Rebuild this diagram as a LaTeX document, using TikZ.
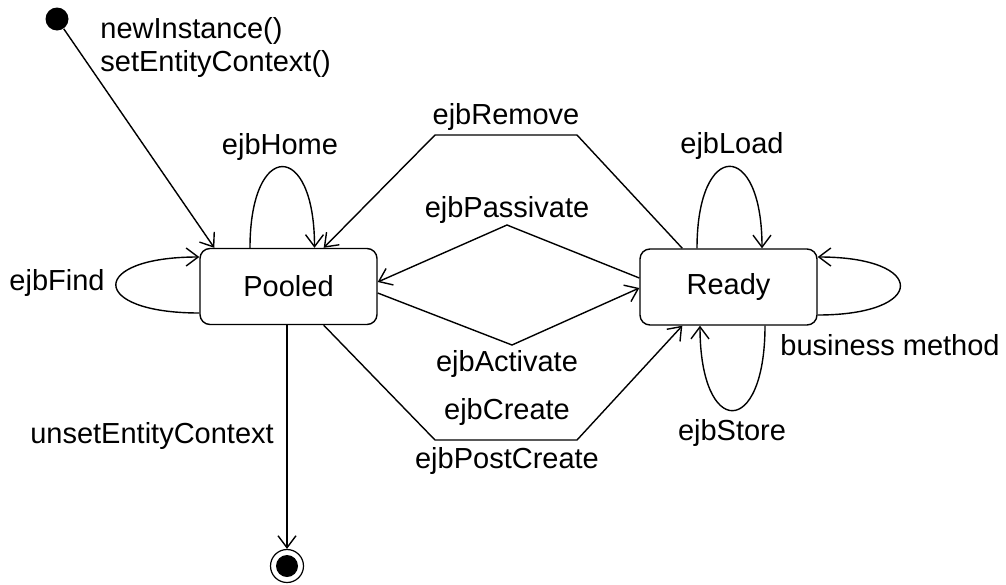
\documentclass[tikz,border=0pt]{standalone}
\usepackage{fontspec}
\setmainfont{Liberation Sans}
\usepackage{tikz}
\usetikzlibrary{arrows.meta, positioning, calc}

\begin{document}
\begin{tikzpicture}[x=0.5pt, y=-0.5pt,
        font=\fontsize{14.5}{16.5}\selectfont,
        state/.style={draw, rectangle, rounded corners=5pt, line width=0.7pt, minimum width=88.5pt, minimum height=38pt},
        trans/.style={line width=0.7pt, -{Straight Barb[length=6pt, width=9pt]}},
        lbl/.style={inner sep=0pt}]
    \useasboundingbox (0,0) rectangle (1006,584);

    % states
    \node[state] (pooled) at (288.5,286.5) {Pooled};
    \node[state] (ready) at (728.5,287) {Ready};
    \node[circle, fill=black, minimum size=11.5pt, inner sep=0pt] (init) at (57,19) {};
    \node[circle, draw, line width=0.6pt, minimum size=16.5pt, inner sep=0pt] (final) at (287,566) {};
    \fill (final.center) circle (5.5pt);

    % bends
    \coordinate (rmR) at (577,135);
    \coordinate (rmL) at (435,135);
    \coordinate (psTop) at (507,225);
    \coordinate (acBot) at (512,345);
    \coordinate (crL) at (435,440);
    \coordinate (crR) at (577,440);

    % transitions
    \draw[trans] (init) -- ([xshift=7.5pt]pooled.north west);
    \draw[trans] ([xshift=-19.25pt]pooled.north) .. controls +(0,-108) and +(0,-108) .. ([xshift=13pt]pooled.north);
    \draw[trans] ([yshift=-13.25pt]pooled.west) .. controls +(-111,0) and +(-111,0) .. ([yshift=14.75pt]pooled.west);
    \draw[trans] ([xshift=21.5pt]ready.north west) -- (rmR) -- (rmL) -- ([xshift=-27pt]pooled.north east);
    \draw[trans] ([yshift=4.5pt]ready.west) -- (psTop) -- ([yshift=2.25pt]pooled.east);
    \draw[trans] ([yshift=-3.25pt]pooled.east) -- (acBot) -- ([yshift=-0.5pt]ready.west);
    \draw[trans] ([xshift=-27pt]pooled.south east) -- (crL) -- (crR) -- ([xshift=21.5pt]ready.south west);
    \draw[trans] ([xshift=-0.75pt]pooled.south) -- (final);
    \draw[trans] ([xshift=-15.75pt]ready.north) .. controls +(0,-109) and +(0,-109) .. ([xshift=16.75pt]ready.north);
    \draw[trans] ([yshift=-14pt]ready.east) .. controls +(110,0) and +(110,0) .. ([yshift=15pt]ready.east);
    \draw[trans] ([xshift=18.25pt]ready.south) .. controls +(0,113) and +(0,113) .. ([xshift=-14.25pt]ready.south);

    % labels
    \node[lbl, align=left, anchor=west] (lInit) at (100,47) {newInstance()\\setEntityContext()};
    \node[lbl] (lHome) at (280,147) {ejbHome};
    \node[lbl] (lFind) at (57,283) {ejbFind};
    \node[lbl] (lRemove) at (506,117) {ejbRemove};
    \node[lbl] (lPassivate) at (507,210) {ejbPassivate};
    \node[lbl] (lActivate) at (507,364) {ejbActivate};
    \node[lbl] (lCreate) at (507,412) {ejbCreate};
    \node[lbl] (lPost) at (507,461) {ejbPostCreate};
    \node[lbl] (lUnset) at (152,436) {unsetEntityContext};
    \node[lbl] (lLoad) at (732,146) {ejbLoad};
    \node[lbl] (lBiz) at (890,345) {business method};
    \node[lbl] (lStore) at (732,433) {ejbStore};
\end{tikzpicture}
\end{document}
